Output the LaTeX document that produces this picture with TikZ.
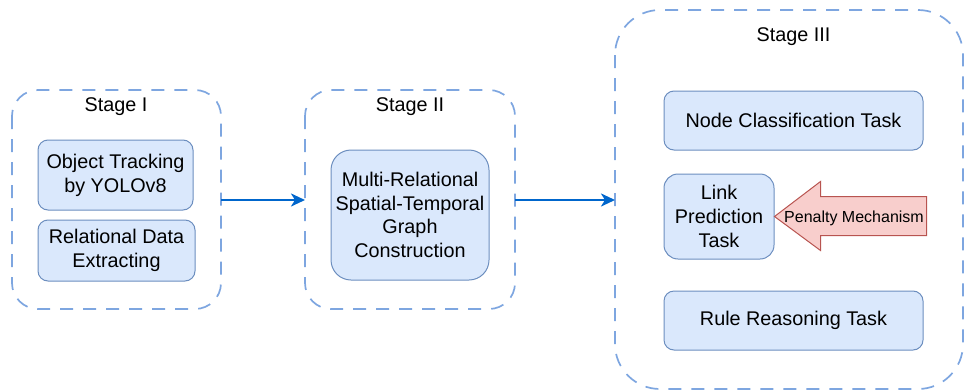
\documentclass[tikz,border=0pt]{standalone}
\usepackage{fontspec}
\setmainfont{Liberation Sans}
\usetikzlibrary{arrows.meta}

\definecolor{taskfill}{HTML}{DAE8FC}
\definecolor{taskline}{HTML}{6C8EBF}
\definecolor{stageline}{HTML}{7EA6E0}
\definecolor{flowline}{HTML}{0066CC}
\definecolor{penfill}{HTML}{F8CECC}
\definecolor{penline}{HTML}{B85450}

\newcommand{\bodyfont}{\fontsize{19.8}{23.8}\selectfont}

\tikzset{
  stagebox/.style={draw=stageline, line width=1.7pt, dash pattern=on 13pt off 10pt,
    rounded corners=#1},
  stagebox/.default=26pt,
  stagelabel/.style={font=\bodyfont, anchor=center},
  taskbox/.style={draw=taskline, fill=taskfill, line width=1pt, rounded corners=10pt,
    align=center, inner sep=0pt, font=\bodyfont},
  flow/.style={draw=flowline, line width=2.6pt,
    -{Stealth[length=14pt, width=13pt, inset=4pt]}},
}

\begin{document}
\begin{tikzpicture}[x=1pt, y=-1pt]
  \useasboundingbox (0,0) rectangle (965,391);

  % stage frames
  \draw[stagebox] (12,90) rectangle (221,309);
  \draw[stagebox] (305,90) rectangle (515,309);
  \draw[stagebox=45pt] (615,10) rectangle (963,389);

  \node[stagelabel] (s1) at (116,107) {Stage I};
  \node[stagelabel] (s2) at (410,107) {Stage II};
  \node[stagelabel] (s3) at (793.5,37) {Stage III};

  % stage I
  \node[taskbox, minimum width=155pt, minimum height=70pt] (track) at (115.5,175)
    {Object Tracking\\by YOLOv8};
  \node[taskbox, minimum width=157pt, minimum height=61pt] (extract) at (116.5,250.5)
    {Relational Data\\Extracting};

  % stage II
  \node[taskbox, rounded corners=20pt, minimum width=158pt, minimum height=130pt]
    (graph) at (410,215)
    {Multi-Relational\\Spatial-Temporal\\Graph\\Construction};

  % stage III
  \node[taskbox, minimum width=259pt, minimum height=59pt] (nodecls) at (793.5,120.5)
    {Node Classification Task};
  \node[taskbox, rounded corners=14pt, minimum width=110pt, minimum height=85pt]
    (link) at (719,216.5) {Link\\Prediction\\Task};
  \node[taskbox, minimum width=259pt, minimum height=59pt] (rule) at (793.5,320.5)
    {Rule Reasoning Task};

  % penalty arrow pointing at the link prediction box
  \draw[draw=penline, fill=penfill, line width=1pt]
    (link.east) -- ++(46,-35) -- ++(0,15) -- ++(106,0) -- ++(0,39)
    -- ++(-106,0) -- ++(0,15) -- cycle;
  \node[font=\fontsize{16}{19}\selectfont, inner sep=0pt] (penalty) at (854,218)
    {Penalty Mechanism};

  % flow between stages
  \coordinate (o1) at (221,200);
  \coordinate (i2) at (305,200);
  \coordinate (o2) at (515,200);
  \coordinate (i3) at (615,200);
  \draw[flow] (o1) -- (i2);
  \draw[flow] (o2) -- (i3);
\end{tikzpicture}
\end{document}
